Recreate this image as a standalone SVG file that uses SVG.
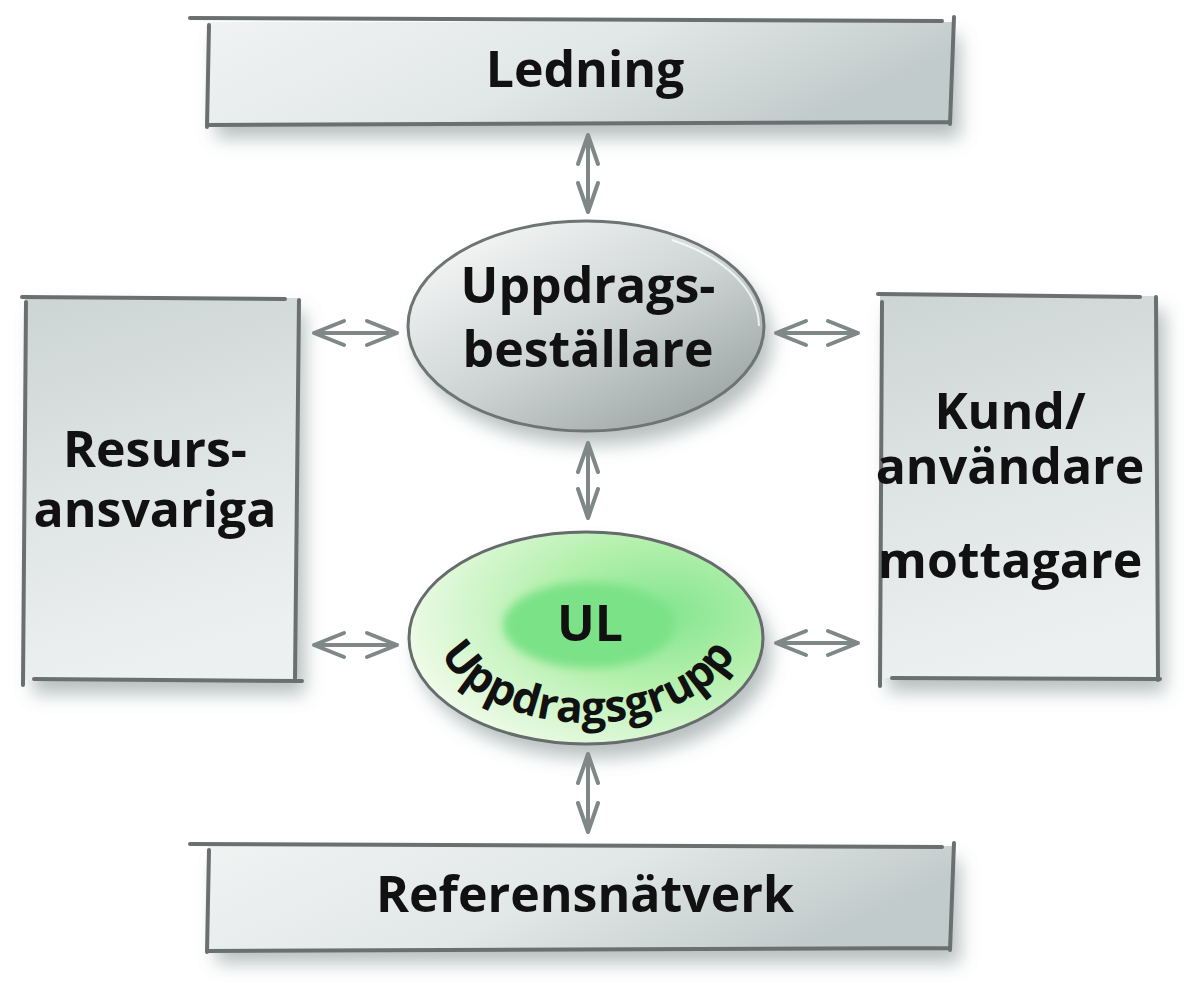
<svg xmlns="http://www.w3.org/2000/svg" width="1200" height="1004" viewBox="0 0 1200 1004">
<style>
.lbl{font-family:"Open Sans","Noto Sans","Liberation Sans",sans-serif;font-weight:700;font-size:50px;fill:#111;text-anchor:middle}
.edge{fill:none;stroke:#6a7070;stroke-width:4;stroke-linecap:round}
.arr{fill:none;stroke:#7f8787;stroke-width:4;stroke-linecap:round;stroke-linejoin:round}
</style>
<defs>
<filter id="sh" x="-20%" y="-20%" width="150%" height="160%">
<feGaussianBlur in="SourceAlpha" stdDeviation="9"/>
<feOffset dx="8" dy="14" result="b"/>
<feFlood flood-color="#6f8080" flood-opacity="0.5"/>
<feComposite in2="b" operator="in"/>
<feMerge><feMergeNode/><feMergeNode in="SourceGraphic"/></feMerge>
</filter>
<filter id="soft" x="-30%" y="-30%" width="160%" height="160%"><feGaussianBlur stdDeviation="5"/></filter>
<linearGradient id="hbox" x1="0" y1="0" x2="1" y2="0.3">
<stop offset="0" stop-color="#f1f3f3"/><stop offset="0.55" stop-color="#e2e7e7"/><stop offset="1" stop-color="#c2cbcb"/>
</linearGradient>
<linearGradient id="vbox" x1="0" y1="0" x2="0.2" y2="1">
<stop offset="0" stop-color="#ccd4d4"/><stop offset="0.5" stop-color="#dee3e3"/><stop offset="1" stop-color="#edf0f0"/>
</linearGradient>
<linearGradient id="gray" x1="0.15" y1="0.1" x2="0.9" y2="0.95">
<stop offset="0" stop-color="#f3f4f4"/><stop offset="0.5" stop-color="#cdd3d3"/><stop offset="1" stop-color="#98a1a1"/>
</linearGradient>
<radialGradient id="green" cx="0.72" cy="0.38" r="0.75">
<stop offset="0" stop-color="#84e58e"/><stop offset="0.45" stop-color="#b4f0ad"/><stop offset="1" stop-color="#effbe9"/>
</radialGradient>
</defs>

<g id="ledning">
<rect x="208" y="22" width="744" height="102" fill="url(#hbox)" filter="url(#sh)"/>
<path class="edge" d="M190 18 L942 21 M209 25 L207 127 M954 17 L950 124 M208 125 L950 122"/>
<text class="lbl" x="585" y="87">Ledning</text>
</g>

<g id="resursansvariga">
<rect x="25" y="298" width="272" height="382" fill="url(#vbox)" filter="url(#sh)"/>
<path class="edge" d="M22 297 L285 299 M26 302 L23 685 M299 300 L295 678 M34 679 L302 681"/>
<text class="lbl" x="155" y="467">Resurs-</text>
<text class="lbl" x="155" y="527">ansvariga</text>
</g>

<g id="kund">
<rect x="880" y="296" width="277" height="382" fill="url(#vbox)" filter="url(#sh)"/>
<path class="edge" d="M878 294 L1140 297 M882 302 L880 686 M1156 297 L1158 680 M892 678 L1160 679"/>
<text class="lbl" x="1010" y="429">Kund/</text>
<text class="lbl" x="1010" y="484">användare</text>
<text class="lbl" x="1010" y="578">mottagare</text>
</g>

<g id="referensnatverk">
<rect x="208" y="846" width="744" height="103" fill="url(#hbox)" filter="url(#sh)"/>
<path class="edge" d="M190 844 L942 847 M209 850 L207 952 M954 843 L950 950 M208 951 L950 948"/>
<text class="lbl" x="585" y="912">Referensnätverk</text>
</g>

<g id="uppdragsbestallare">
<ellipse cx="586" cy="326" rx="178" ry="105" fill="url(#gray)" filter="url(#sh)"/>
<ellipse cx="586" cy="326" rx="178" ry="105" fill="none" stroke="#6e7474" stroke-width="3"/>
<path d="M672 240 A173 100 0 0 1 759 326" fill="none" stroke="#ffffff" stroke-width="2" opacity="0.75"/>
<text class="lbl" x="588" y="303">Uppdrags-</text>
<text class="lbl" x="588" y="367">beställare</text>
</g>

<g id="uppdragsgrupp">
<ellipse cx="586" cy="638" rx="177" ry="106" fill="url(#green)" filter="url(#sh)"/>
<ellipse cx="589" cy="625" rx="86" ry="43" fill="#7be287" filter="url(#soft)"/>
<ellipse cx="586" cy="638" rx="177" ry="106" fill="none" stroke="#666b6b" stroke-width="3"/>
<text class="lbl" x="590" y="641">UL</text>
<path id="arc" d="M432 620 A156 103 0 0 0 744 620" fill="none"/>
<text class="lbl" style="font-size:44px"><textPath href="#arc" startOffset="50%">Uppdragsgrupp</textPath></text>
</g>

<g id="connectors">
<path class="arr" d="M588 135 L588 212 M578 164 L588 135 L598 164 M578 183 L588 212 L598 183"/>
<path class="arr" d="M588 443 L588 518 M578 472 L588 443 L598 472 M578 489 L588 518 L598 489"/>
<path class="arr" d="M588 754 L588 832 M578 783 L588 754 L598 783 M578 803 L588 832 L598 803"/>
<path class="arr" d="M314 333 L397 333 M344 321 L314 333 L344 345 M367 321 L397 333 L367 345"/>
<path class="arr" d="M314 645 L397 645 M344 633 L314 645 L344 657 M367 633 L397 645 L367 657"/>
<path class="arr" d="M776 333 L858 333 M806 321 L776 333 L806 345 M828 321 L858 333 L828 345"/>
<path class="arr" d="M776 643 L858 643 M806 631 L776 643 L806 655 M828 631 L858 643 L828 655"/>
</g>
</svg>
